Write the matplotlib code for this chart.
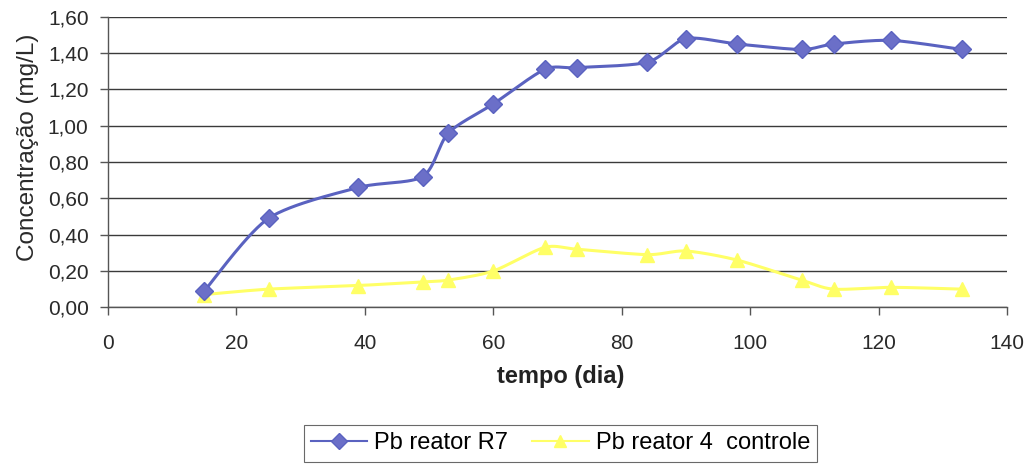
import numpy as np
import matplotlib
matplotlib.use("Agg")
import matplotlib.pyplot as plt
from matplotlib.ticker import FuncFormatter, MultipleLocator
from matplotlib.lines import Line2D

plt.rcParams['font.family'] = ['Liberation Sans', 'DejaVu Sans']

# sampling days
dias = [15, 25, 39, 49, 53, 60, 68, 73, 84, 90, 98, 108, 113, 122, 133]
# Pb concentration (mg/L)
pb_r7 = [0.09, 0.49, 0.66, 0.72, 0.96, 1.12, 1.31, 1.32, 1.35, 1.48, 1.45, 1.42, 1.45, 1.47, 1.42]
pb_controle = [0.07, 0.10, 0.12, 0.14, 0.15, 0.20, 0.33, 0.32, 0.29, 0.31, 0.26, 0.15, 0.10, 0.11, 0.10]

nome_r7 = "Pb reator R7"
nome_controle = "Pb reator 4  controle"

cor_r7 = "#6b6fc8"
cor_r7_linha = "#5a62c0"
cor_controle = "#ffff66"

XMAX, YMAX = 140, 1.60
# plot box in pixels, used to smooth the curve in screen proportions
LARG, ALT = 899.0, 290.0


def suavizar(x, y, n=30, tensao=0.8):
    """Catmull-Rom curve through the points, computed in screen-like units."""
    x = np.asarray(x, float) / XMAX * LARG
    y = np.asarray(y, float) / YMAX * ALT
    p = np.column_stack([x, y])
    p = np.vstack([p[0], p, p[-1]])
    t = np.linspace(0, 1, n, endpoint=False)[:, None]
    h00 = 2 * t**3 - 3 * t**2 + 1
    h10 = t**3 - 2 * t**2 + t
    h01 = -2 * t**3 + 3 * t**2
    h11 = t**3 - t**2
    out = []
    for i in range(1, len(p) - 2):
        p0, p1, p2, p3 = p[i - 1], p[i], p[i + 1], p[i + 2]
        m1 = tensao * (p2 - p0) / 2
        m2 = tensao * (p3 - p1) / 2
        out.append(h00 * p1 + h10 * m1 + h01 * p2 + h11 * m2)
    out.append(p[-2][None, :])
    c = np.vstack(out)
    return c[:, 0] / LARG * XMAX, c[:, 1] / ALT * YMAX


fig = plt.figure(figsize=(10.36, 4.66), dpi=100)
ax = fig.add_axes([108 / 1036, 1 - 307.3 / 466, 899 / 1036, 290.5 / 466])

ax.set_xlim(0, XMAX)
ax.set_ylim(0, YMAX)

ax.yaxis.set_major_locator(MultipleLocator(0.2))
ax.xaxis.set_major_locator(MultipleLocator(20))
ax.yaxis.set_major_formatter(FuncFormatter(lambda v, p: f"{v:.2f}".replace(".", ",")))
ax.grid(axis='y', color='#3a3a3a', linewidth=1.0)
ax.set_axisbelow(True)

for s in ['top', 'right']:
    ax.spines[s].set_visible(False)
for s in ['left', 'bottom']:
    ax.spines[s].set_color('#555555')
    ax.spines[s].set_linewidth(1.0)

ax.tick_params(axis='both', colors='#555555', labelcolor='#2a2a2a',
               labelsize=15, length=6, width=1, direction='out')
ax.tick_params(axis='x', pad=13)
ax.tick_params(axis='y', pad=8)

xs, ys = suavizar(dias, pb_r7)
ax.plot(xs, ys, color=cor_r7_linha, linewidth=2.2, zorder=3, clip_on=False)
ax.plot(dias, pb_r7, linestyle='none', marker='D', markersize=9.5,
        color=cor_r7, markeredgecolor=cor_r7_linha, zorder=4, clip_on=False)

xc, yc = suavizar(dias, pb_controle)
ax.plot(xc, yc, color=cor_controle, linewidth=2.2, zorder=2, clip_on=False)
ax.plot(dias, pb_controle, linestyle='none', marker='^', markersize=10.5,
        color=cor_controle, markeredgecolor=cor_controle, zorder=2, clip_on=False)

ax.set_xlabel("tempo (dia)", fontsize=17, fontweight='bold', color='#222222')
ax.xaxis.set_label_coords(0.504, -0.198)
ax.set_ylabel("Concentração (mg/L)", fontsize=17.5, color='#2a2a2a')
ax.yaxis.set_label_coords(-0.077, 0.55)

handles = [
    Line2D([], [], color=cor_r7_linha, marker='D', markersize=8, markerfacecolor=cor_r7,
           linewidth=1.5),
    Line2D([], [], color=cor_controle, marker='^', markersize=8, linewidth=1.5),
]
leg = fig.legend(handles, [nome_r7, nome_controle], loc='center',
                 bbox_to_anchor=(0.541, 0.0483), ncol=2, frameon=True, fancybox=False,
                 fontsize=17, handlelength=2.4, columnspacing=1.0, handletextpad=0.3,
                 borderpad=0.3, borderaxespad=0, edgecolor='#444444')
leg.get_frame().set_linewidth(0.8)

fig.savefig("out.png", dpi=100, facecolor='white')
